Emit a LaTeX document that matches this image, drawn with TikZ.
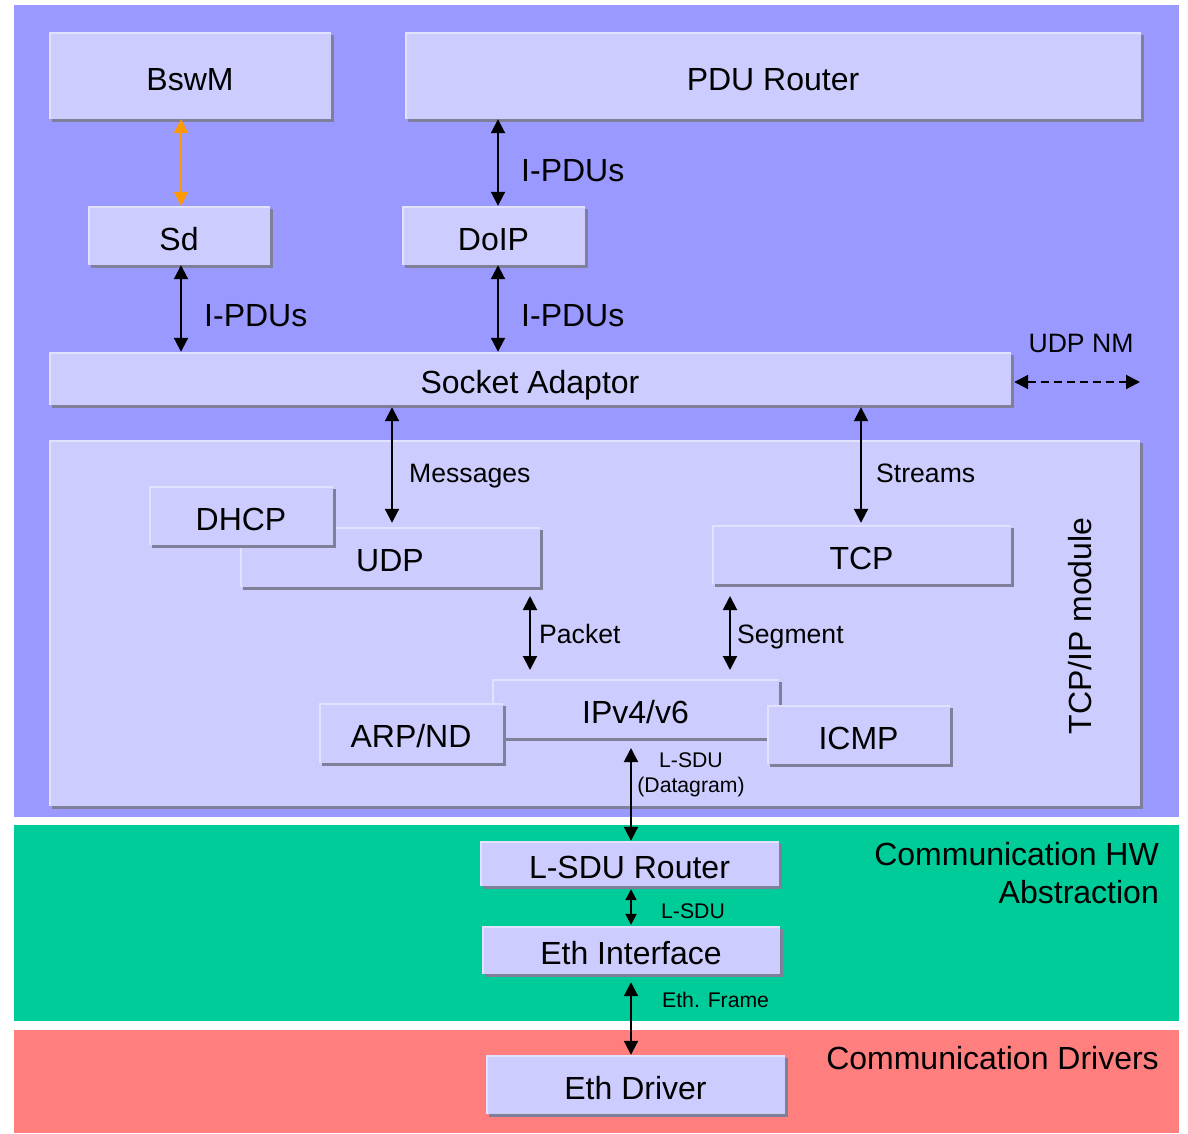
\documentclass[tikz,border=0pt]{standalone}
\usepackage{fontspec}
\setmainfont{Liberation Sans}
\usetikzlibrary{arrows.meta,shadows}
\definecolor{purp}{HTML}{9999FF}
\definecolor{boxc}{HTML}{CCCCFF}
\definecolor{litec}{HTML}{E2E2FF}
\definecolor{shadc}{HTML}{7F7F99}
\definecolor{grn}{HTML}{00CC99}
\definecolor{redc}{HTML}{FF7F7F}
\definecolor{orng}{HTML}{FF9900}
\newcommand\fBig{\fontsize{32}{38}\selectfont}
\newcommand\fMid{\fontsize{26.6}{30}\selectfont}
\newcommand\fSml{\fontsize{21.2}{24.5}\selectfont}
\newcommand\blk[6]{\node[blk,minimum width={#4-#2},minimum height={#5-#3}] (#1) at ({(#2+#4)/2},{(#3+#5)/2}) {#6};}
\tikzset{
  blk/.style={fill=boxc,inner sep=0pt,font=\fBig,text height=29pt,text depth=0pt,
    drop shadow={shadow xshift=3pt,shadow yshift=-3pt,fill=shadc,opacity=1},
    path picture={\draw[litec,line width=4pt] (path picture bounding box.south west) -- (path picture bounding box.north west) -- (path picture bounding box.north east);}},
  dbl/.style={line width=2pt,{Triangle[length=14pt,width=14pt]}-{Triangle[length=14pt,width=14pt]}},
  dbls/.style={line width=2pt,{Triangle[length=11pt,width=11pt]}-{Triangle[length=11pt,width=11pt]}},
  lblm/.style={font=\fMid,anchor=west,inner sep=0pt,text height=19pt,text depth=0pt},
  lbls/.style={font=\fSml,inner sep=0pt},
  lblb/.style={font=\fBig,inner sep=0pt,text height=23pt,text depth=0pt}
}
\begin{document}
\begin{tikzpicture}[x=1pt,y=-1pt]
\useasboundingbox (0,0) rectangle (1188,1133);
% layers
\fill[purp] (14,5) rectangle (1179,817);
\fill[grn] (14,825) rectangle (1179,1021);
\fill[redc] (14,1030) rectangle (1179,1133);
% boxes
\blk{bswm}{49}{32}{331}{119}{BswM}
\blk{pdur}{405}{32}{1141}{119}{PDU Router}
\blk{sd}{88}{206}{270}{265}{Sd}
\blk{doip}{402}{206}{585}{265}{DoIP}
\blk{sock}{49}{352}{1011}{405}{Socket Adaptor}
\blk{tcpip}{49}{440}{1140}{806}{}
\blk{udp}{240}{527}{540}{587}{UDP}
\blk{dhcp}{149}{486}{333}{545}{DHCP}
\blk{tcp}{712}{525}{1011}{584}{TCP}
\blk{ipv}{492}{679}{779}{738}{IPv4/v6}
\blk{arp}{319}{703}{503}{763}{ARP/ND}
\blk{icmp}{767}{705}{950}{764}{ICMP}
\blk{lsdur}{480}{841}{779}{886}{L-SDU Router}
\blk{ethif}{482}{926}{780}{974}{Eth Interface}
\blk{ethdrv}{486}{1055}{785}{1114}{Eth Driver}
% coordinates for free ends
\coordinate (pka) at (530,596);
\coordinate (pkb) at (530,670);
\coordinate (sga) at (730,596);
\coordinate (sgb) at (730,670);
\coordinate (ipa) at (631,748);
\coordinate (nmend) at (1140,382);
% connectors
\draw[dbl,orng] (sd.north -| 181,0) -- (bswm.south -| 181,0);
\draw[dbl] (doip.north -| 498,0) -- (pdur.south -| 498,0);
\draw[dbl] (sock.north -| 181,0) -- (sd.south -| 181,0);
\draw[dbl] (sock.north -| 498,0) -- (doip.south -| 498,0);
\draw[dbl] ([yshift=-2pt]sock.south -| 392,0) -- ([yshift=4pt]udp.north -| 392,0);
\draw[dbl] ([yshift=-2pt]sock.south -| 861,0) -- ([yshift=2pt]tcp.north -| 861,0);
\draw[dbl] (pka) -- (pkb);
\draw[dbl] (sga) -- (sgb);
\draw[dbl] (ipa) -- (lsdur.north -| ipa);
\draw[dbls] ([yshift=-3pt]lsdur.south -| ipa) -- ([yshift=1pt]ethif.north -| ipa);
\draw[dbl] ([yshift=-8pt]ethif.south -| ipa) -- (ethdrv.north -| ipa);
\draw[line width=2pt,dashed,dash pattern=on 8pt off 5pt,{Triangle[length=14pt,width=14pt]}-{Triangle[length=14pt,width=14pt]}] ([xshift=3pt]sock.east |- nmend) -- (nmend);
% labels
\node[lblb,anchor=west] (l1) at (521,170) {I-PDUs};
\node[lblb,anchor=west] (l2) at (204,315) {I-PDUs};
\node[lblb,anchor=west] (l3) at (521,315) {I-PDUs};
\node[lblm] (l4) at (409,473) {Messages};
\node[lblm] (l5) at (876,473) {Streams};
\node[lblm] (l6) at (539,634) {Packet};
\node[lblm] (l7) at (737,634) {Segment};
\node[lblm,anchor=center] (l8) at (1081,343) {UDP NM};
\node[lbls,align=center] (l9) at (691,775) {L-SDU\\(Datagram)};
\node[lbls,anchor=west] (l10) at (661,911) {L-SDU};
\node[lbls,anchor=west] (l11) at (662,1000) {Eth. Frame};
\node[lblb,rotate=90] (l12) at (1080,626) {TCP/IP module};
\node[font=\fBig,inner sep=0pt,align=right,anchor=east] (l13) at (1159,873) {Communication HW\\Abstraction};
\node[lblb,anchor=east] (l14) at (1159,1058) {Communication Drivers};
\end{tikzpicture}
\end{document}
